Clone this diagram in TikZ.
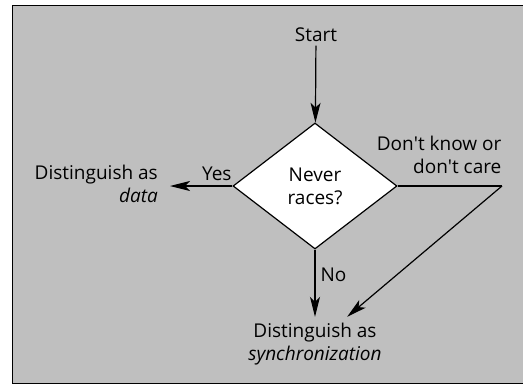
\documentclass[tikz,border=0pt]{standalone}
\usepackage{fontspec}
\setmainfont{Open Sans}
\usepackage{tikz}
\usetikzlibrary{shapes.geometric,arrows.meta}
\definecolor{panel}{gray}{0.75}

\begin{document}
\begin{tikzpicture}[
	x=1pt, y=-1pt,
	font=\fontsize{19}{23}\selectfont,
	flow/.style={line width=1.2pt, -{Stealth[length=20pt,width=10pt,inset=5pt]}},
	edge/.style={line width=1.2pt},
	decision/.style={diamond, draw, fill=white, line width=1.2pt,
		minimum width=164pt, minimum height=126pt, inner sep=0pt, align=center},
	outcome/.style={inner ysep=0pt, inner xsep=12pt},
	tag/.style={inner sep=5pt}
	]
	\useasboundingbox (0,0) rectangle (523,386);
	\fill [panel] (12,5) rectangle (523,383);
	\draw [line width=1pt] (523,5) -- (12,5) -- (12,383) -- (523,383);

	\node (1) at (316,35) 
		{Start};
	\node [decision] (2) at (315,186) 
		{Never\\races?};
	\node [outcome, align=right, anchor=east] (3) at (170,184) 
		{Distinguish as\\\textit{data}};
	\node [outcome, align=center, inner ysep=6pt] (4) at (315,344) 
		{Distinguish as\\\textit{synchronization}};
	\coordinate (5) at (502,186);

	\draw [flow] (1) -- (2);
	\draw [flow] (2.west) to 
		node [tag, above, pos=0.25] {Yes} 
		(3.east |- 2.west);
	\draw [flow] (2) to 
		node [tag, right, pos=0.37] {No} 
		(4);
	\draw [edge] (2.east) -- (5) 
		node [anchor=south east, inner xsep=0pt, inner ysep=12pt, align=right] 
		{Don\textquotesingle t know or\\don\textquotesingle t care};
	\draw [flow] (5) -- (4);
\end{tikzpicture}
\end{document}
